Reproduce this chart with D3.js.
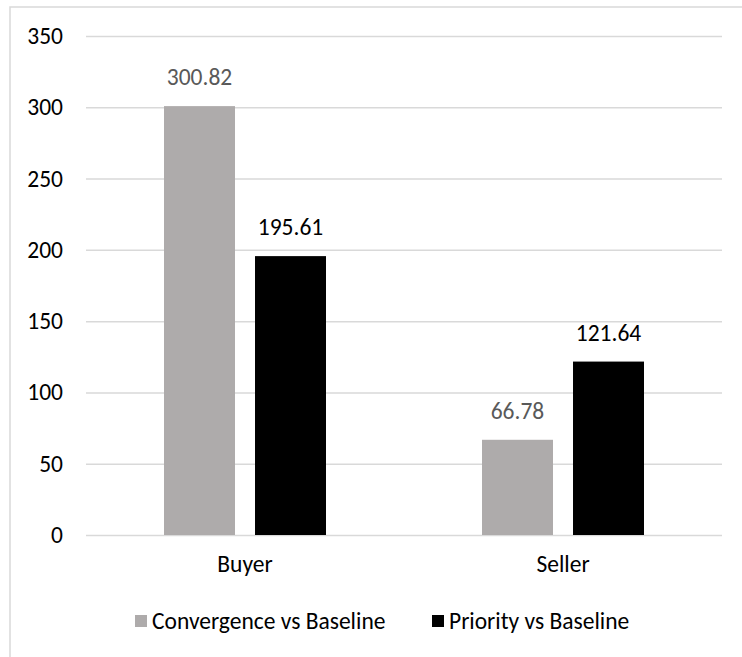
<!DOCTYPE html>
<html>
<head>
<meta charset="utf-8">
<script src="https://cdn.jsdelivr.net/npm/d3@7"></script>
<style>
  body { margin: 0; background: #fff; }
  svg { display: block; font-family: Carlito, Calibri, Lato, sans-serif; }
</style>
</head>
<body>
<script>
//Data
    const categories = ["Buyer", "Seller"];
    const seriesNames = ["Convergence vs Baseline", "Priority vs Baseline"];
    const convergence = [300.82, 66.78];
    const priority = [195.61, 121.64];
    const yTicks = [0, 50, 100, 150, 200, 250, 300, 350];

//Variables
    const width = 742;
    const height = 657;
    const margin = {left: 86, right: 20, top: 36, bottom: 122};
    const fontSize = "23.5px";
    const colors = ["#AEABAB", "#000000"];
    const labelColors = ["#595959", "#000000"];

    const rows = categories.map((c, i) => ({cat: c, values: [convergence[i], priority[i]]}));

//SVG creation
    const svg = d3.select("body")
        .append("svg")
        .attr("width", width)
        .attr("height", height);

//Border
    svg.append("rect")
        .attr("x", 10)
        .attr("y", 7)
        .attr("width", width + 20)
        .attr("height", height + 20)
        .attr("fill", "none")
        .attr("stroke", "#d9d9d9")
        .attr("stroke-width", 1.5);

//Scales
    const yScale = d3.scaleLinear()
        .domain([0, 350])
        .range([height - margin.bottom, margin.top]);

    const xScale = d3.scaleBand()
        .domain(categories)
        .range([margin.left, width - margin.right]);

    const xInner = d3.scaleBand()
        .domain([0, 1])
        .range([xScale.bandwidth() / 2 - 81, xScale.bandwidth() / 2 + 81])
        .paddingInner(0.22);

//Gridlines + y axis
    const yAxis = d3.axisLeft(yScale)
        .tickValues(yTicks)
        .tickSize(-(width - margin.left - margin.right))
        .tickPadding(23);

    const yG = svg.append("g")
        .attr("transform", `translate(${margin.left}, 0)`)
        .call(yAxis);
    yG.select(".domain").remove();
    yG.selectAll("line").attr("stroke", "#d9d9d9").attr("stroke-width", 1.5);
    yG.selectAll("text")
        .attr("fill", "#000")
        .style("font-size", fontSize)
        .style("font-family", "Carlito, Calibri, Lato, sans-serif");

//Bars
    const groups = svg.selectAll(".cat")
        .data(rows)
        .enter()
        .append("g")
        .attr("class", "cat")
        .attr("transform", d => `translate(${xScale(d.cat)}, 0)`);

    groups.selectAll("rect")
        .data(d => d.values)
        .enter()
        .append("rect")
        .attr("x", (d, i) => xInner(i))
        .attr("y", d => yScale(d))
        .attr("width", xInner.bandwidth())
        .attr("height", d => yScale(0) - yScale(d))
        .attr("fill", (d, i) => colors[i]);

//Value labels
    groups.selectAll("text")
        .data(d => d.values)
        .enter()
        .append("text")
        .attr("x", (d, i) => xInner(i) + xInner.bandwidth() / 2)
        .attr("y", d => yScale(d) - 21)
        .attr("text-anchor", "middle")
        .attr("fill", (d, i) => labelColors[i])
        .style("font-size", fontSize)
        .text(d => d.toFixed(2));

//X axis labels
    const xAxis = d3.axisBottom(xScale).tickSize(0).tickPadding(20);
    const xG = svg.append("g")
        .attr("transform", `translate(0, ${yScale(0)})`)
        .call(xAxis);
    xG.select(".domain").remove();
    xG.selectAll("text")
        .attr("fill", "#000")
        .style("font-size", fontSize)
        .style("font-family", "Carlito, Calibri, Lato, sans-serif");

//Legend
    const legendX = [135, 432];
    const legend = svg.selectAll(".legend")
        .data(seriesNames)
        .enter()
        .append("g")
        .attr("class", "legend")
        .attr("transform", (d, i) => `translate(${legendX[i]}, 621)`);

    legend.append("rect")
        .attr("x", 0)
        .attr("y", -6)
        .attr("width", 12)
        .attr("height", 12)
        .attr("fill", (d, i) => colors[i]);

    legend.append("text")
        .attr("x", 17)
        .attr("y", 8)
        .attr("fill", "#000")
        .style("font-size", fontSize)
        .text(d => d);
</script>
</body>
</html>
